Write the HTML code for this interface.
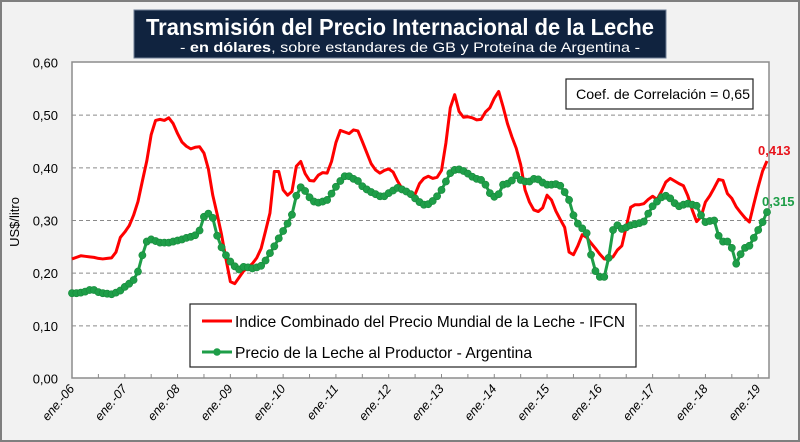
<!DOCTYPE html>
<html><head><meta charset="utf-8"><style>
html,body{margin:0;padding:0;background:#fff}
svg{display:block;font-family:"Liberation Sans",sans-serif}
</style></head><body>
<svg id="chart" width="800" height="442" viewBox="0 0 800 442">
<rect x="1" y="1" width="798" height="440" fill="#f2f2f2" stroke="#7f7f7f" stroke-width="2"/>
<rect x="72" y="62" width="697" height="316" fill="#ffffff" stroke="#8c8c8c" stroke-width="1.5"/>
<g id="grid"></g>
<g id="yticks"></g>
<g id="xticks"></g>
<text x="0" y="0" transform="translate(19,222) rotate(-90)" text-anchor="middle" font-size="13" fill="#000">US$/litro</text>
<g id="series"></g>
<rect x="134" y="10" width="532" height="48" fill="#10233f" stroke="#6f7f95" stroke-width="1"/>
<text x="400" y="35" text-anchor="middle" font-size="23" font-weight="bold" fill="#fff" textLength="508" lengthAdjust="spacingAndGlyphs">Transmisión del Precio Internacional de la Leche</text>
<text x="410" y="52" text-anchor="middle" font-size="14" fill="#fff" textLength="460" lengthAdjust="spacingAndGlyphs">- <tspan font-weight="bold">en dólares</tspan>, sobre estandares de GB y Proteína de  Argentina -</text>
<rect x="566" y="79" width="187" height="30" fill="#fff" stroke="#222" stroke-width="1.2"/>
<text x="576" y="99" font-size="14" fill="#000" textLength="174" lengthAdjust="spacingAndGlyphs">Coef. de Correlación = 0,65</text>
<rect x="190" y="304" width="446" height="63" fill="#fff" stroke="#222" stroke-width="1.2"/>
<line x1="202" y1="321" x2="232" y2="321" stroke="#ff0000" stroke-width="3"/>
<text x="235" y="327" font-size="16" fill="#000" textLength="390" lengthAdjust="spacingAndGlyphs">Indice Combinado del Precio Mundial de la Leche - IFCN</text>
<line x1="202" y1="352" x2="232" y2="352" stroke="#1e9e48" stroke-width="3"/>
<circle cx="217" cy="352" r="3.8" fill="#1e9e48"/>
<text x="235" y="358" font-size="16" fill="#000" textLength="297" lengthAdjust="spacingAndGlyphs">Precio de la Leche al Productor - Argentina</text>
<text x="758" y="155" font-size="13" font-weight="bold" fill="#e8141c">0,413</text>
<text x="762" y="206" font-size="13" font-weight="bold" fill="#1e9e48">0,315</text>
</svg>
<script>
const yTicks=[0,0.1,0.2,0.3,0.4,0.5,0.6];
const yTickLabels=["0,00","0,10","0,20","0,30","0,40","0,50","0,60"];
const xTickLabels=["ene.-06","ene.-07","ene.-08","ene.-09","ene.-10","ene.-11","ene.-12","ene.-13","ene.-14","ene.-15","ene.-16","ene.-17","ene.-18","ene.-19"];
const ifcn=[.227,.230,.233,.232,.231,.230,.228,.227,.228,.229,.240,.268,.278,.290,.310,.336,.375,.413,.463,.490,.492,.490,.495,.484,.465,.449,.441,.436,.439,.440,.428,.398,.348,.312,.273,.227,.184,.180,.192,.204,.211,.218,.229,.247,.280,.314,.393,.393,.358,.348,.355,.403,.412,.389,.376,.375,.386,.391,.390,.412,.448,.471,.468,.465,.472,.470,.450,.429,.408,.396,.390,.395,.398,.392,.375,.361,.355,.351,.350,.370,.380,.384,.380,.382,.395,.447,.514,.539,.507,.496,.497,.495,.491,.492,.506,.514,.532,.545,.516,.484,.459,.437,.406,.358,.335,.320,.317,.324,.348,.339,.318,.302,.287,.240,.235,.252,.273,.268,.257,.247,.236,.227,.227,.231,.244,.252,.288,.325,.330,.330,.332,.340,.346,.340,.355,.373,.380,.375,.370,.366,.347,.320,.298,.307,.335,.347,.362,.378,.376,.351,.342,.326,.315,.305,.297,.331,.364,.394,.413];
const argentina=[.162,.162,.163,.165,.168,.168,.164,.162,.161,.160,.163,.167,.174,.180,.187,.203,.234,.260,.264,.261,.258,.258,.258,.260,.262,.264,.267,.269,.272,.281,.307,.313,.305,.271,.249,.234,.222,.213,.207,.212,.211,.209,.211,.214,.224,.238,.251,.266,.280,.294,.311,.347,.363,.356,.344,.336,.334,.336,.339,.351,.364,.375,.384,.384,.379,.375,.365,.359,.354,.350,.346,.346,.352,.357,.362,.359,.355,.350,.342,.335,.330,.331,.337,.346,.358,.374,.390,.396,.397,.394,.389,.383,.379,.377,.368,.352,.345,.350,.368,.370,.376,.386,.377,.374,.374,.379,.378,.372,.368,.368,.369,.366,.354,.339,.310,.294,.285,.276,.235,.204,.193,.193,.229,.282,.291,.284,.287,.291,.293,.295,.298,.313,.327,.336,.344,.347,.342,.333,.327,.330,.332,.330,.328,.310,.297,.299,.300,.271,.260,.260,.248,.218,.236,.248,.252,.267,.282,.297,.316];
const NS="http://www.w3.org/2000/svg";
const X0=72,X1=767,Y0=378.5,YTOP=62.5;
const nPts=ifcn.length;
function xs(i){return X0+i*(X1-X0)/(nPts-1);}
function ys(v){return Y0-(v/0.6)*(Y0-YTOP);}
function mk(tag,attrs,parent){const e=document.createElementNS(NS,tag);for(const k in attrs)e.setAttribute(k,attrs[k]);parent.appendChild(e);return e;}
const grid=document.getElementById('grid'),yt=document.getElementById('yticks'),xt=document.getElementById('xticks'),ser=document.getElementById('series');
yTicks.forEach((v,k)=>{
  if(v>0&&v<0.6){const l=mk('line',{x1:X0,x2:769,y1:ys(v),y2:ys(v),stroke:'#8a8a8a','stroke-width':1,'stroke-dasharray':'4,3'},grid);
  
  }
  const t=mk('text',{x:58,y:ys(v)+5,'text-anchor':'end','font-size':13,fill:'#000'},yt);
  t.textContent=yTickLabels[k];
  
  
});
for(let i=0;i<nPts;i+=6){const l=mk('line',{x1:xs(i),x2:xs(i),y1:378,y2:374,stroke:'#8a8a8a','stroke-width':1},xt);
  
  }
xTickLabels.forEach((s,k)=>{
  const x=xs(k*12);
  const t=mk('text',{x:0,y:0,transform:`translate(${x+3},${389}) rotate(-50)`,'text-anchor':'end','font-size':12.5,'font-style':'italic',fill:'#000'},xt);
  t.textContent=s;
  
  
});
const rp=mk('polyline',{points:ifcn.map((v,i)=>xs(i)+','+ys(v)).join(' '),fill:'none',stroke:'#ff0000','stroke-width':3,'stroke-linejoin':'round'},ser);


const gp=mk('polyline',{points:argentina.map((v,i)=>xs(i)+','+ys(v)).join(' '),fill:'none',stroke:'#1e9e48','stroke-width':3,'stroke-linejoin':'round'},ser);


argentina.forEach((v,i)=>{const c=mk('circle',{cx:xs(i),cy:ys(v),r:3.6,fill:'#1e9e48',stroke:'#178a3c','stroke-width':0.6},ser);
  
  });
</script>
</body></html>
